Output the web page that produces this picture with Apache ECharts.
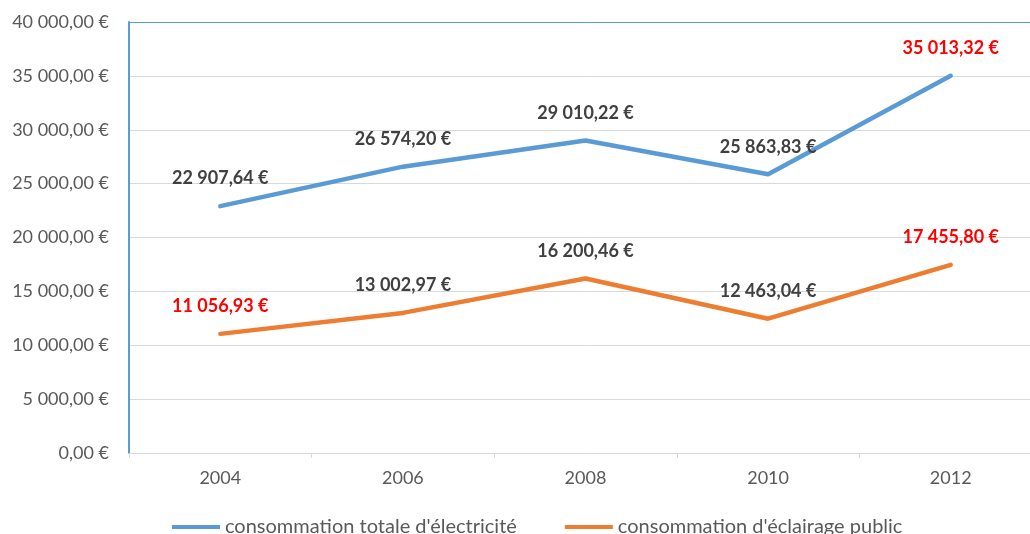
<!DOCTYPE html>
<html>
<head>
<meta charset="utf-8">
<script src="https://cdn.jsdelivr.net/npm/echarts@6/dist/echarts.min.js"></script>
<style>
  html, body { margin: 0; padding: 0; background: #fff; overflow: hidden; }
  /* la zone de tracé déborde à droite comme dans l'original */
  #main { width: 1042px; height: 534px; }
</style>
</head>
<body>
<div id="main"></div>
<script>
// données
const years = ['2004', '2006', '2008', '2010', '2012'];
const totalElec = [22907.64, 26574.20, 29010.22, 25863.83, 35013.32];
const eclairage = [11056.93, 13002.97, 16200.46, 12463.04, 17455.80];
const seriesNames = ["consommation totale d'électricité", "consommation d'éclairage public"];
// étiquettes en rouge
const redTotal = [4];
const redEclairage = [0, 4];

function euro(v) {
  const parts = v.toFixed(2).split('.');
  const ent = parts[0].replace(/\B(?=(\d{3})+(?!\d))/g, ' ');
  return ent + ',' + parts[1] + ' €';
}

function buildData(values, reds) {
  return values.map((v, i) => {
    if (reds.indexOf(i) >= 0) {
      return { value: v, label: { color: '#ff0000' } };
    }
    return v;
  });
}

const font = 'Lato';
const chart = echarts.init(document.getElementById('main'));

const labelStyle = {
  show: true,
  position: 'top',
  distance: 18,
  fontFamily: font,
  fontSize: 18,
  fontWeight: 'bold',
  color: '#404040',
  formatter: p => euro(p.value)
};

const option = {
  backgroundColor: '#ffffff',
  animation: false,
  color: ['#5b9bd5', '#ed7d31'],
  grid: {
    left: 129,
    top: 22,
    bottom: 81,
    right: 0,
    containLabel: false
  },
  legend: {
    top: 517,
    left: 172,
    padding: 0,
    itemWidth: 48,
    itemHeight: 4,
    itemGap: 48,
    icon: 'rect',
    textStyle: { fontFamily: font, fontSize: 20, color: '#595959' },
    data: seriesNames
  },
  xAxis: {
    type: 'category',
    data: years,
    boundaryGap: true,
    axisLine: { lineStyle: { color: '#d9d9d9', width: 1 } },
    axisTick: { show: true, length: 5, lineStyle: { color: '#d9d9d9' } },
    axisLabel: { fontFamily: font, fontSize: 18, color: '#595959', margin: 16 }
  },
  yAxis: {
    type: 'value',
    min: 0,
    max: 40000,
    interval: 5000,
    axisLine: { show: true, lineStyle: { color: '#5b9bd5', width: 2 } },
    axisTick: { show: false },
    axisLabel: {
      fontFamily: font, fontSize: 18, color: '#595959', margin: 20,
      formatter: v => euro(v)
    },
    splitLine: {
      lineStyle: {
        color: ['#d9d9d9', '#d9d9d9', '#d9d9d9', '#d9d9d9', '#d9d9d9', '#d9d9d9', '#d9d9d9', '#d9d9d9', '#5b9bd5'],
        width: 1
      }
    }
  },
  series: [{
    name: seriesNames[0],
    type: 'line',
    data: buildData(totalElec, redTotal),
    symbol: 'circle',
    symbolSize: 1,
    showSymbol: true,
    lineStyle: { width: 4.5, cap: 'round' },
    label: labelStyle
  }, {
    name: seriesNames[1],
    type: 'line',
    data: buildData(eclairage, redEclairage),
    symbol: 'circle',
    symbolSize: 1,
    showSymbol: true,
    lineStyle: { width: 4.5, cap: 'round' },
    label: labelStyle
  }]
};

chart.setOption(option);
</script>
</body>
</html>
